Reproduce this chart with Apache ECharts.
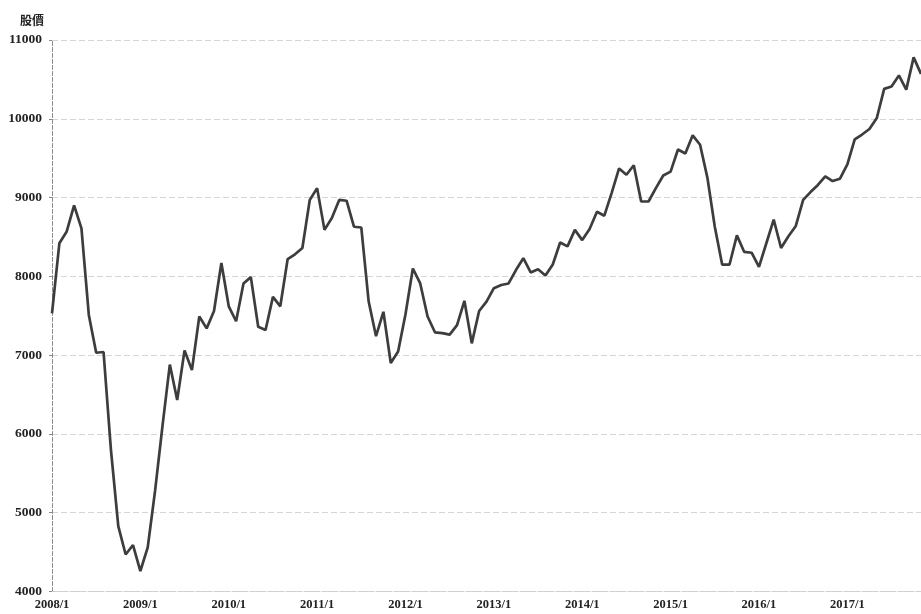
<!DOCTYPE html>
<html>
<head>
<meta charset="utf-8">
<script src="https://cdn.jsdelivr.net/npm/echarts@6/dist/echarts.min.js"></script>
<style>
html,body{margin:0;padding:0;background:#fff;}
#chart{width:921px;height:614px;}
</style>
</head>
<body>
<div id="chart"></div>
<script>
const years = [2008, 2009, 2010, 2011, 2012, 2013, 2014, 2015, 2016, 2017];
const months = [1,2,3,4,5,6,7,8,9,10,11,12];
const lastMonth2017 = 11;

const price2008 = [7530, 8420, 8570, 8900, 8610, 7510, 7030, 7040, 5800, 4830, 4470, 4590];
const price2009 = [4260, 4560, 5280, 6100, 6880, 6430, 7060, 6810, 7490, 7340, 7560, 8170];
const price2010 = [7620, 7430, 7910, 7990, 7360, 7320, 7740, 7620, 8220, 8280, 8360, 8970];
const price2011 = [9120, 8590, 8740, 8970, 8960, 8630, 8620, 7680, 7240, 7550, 6900, 7045];
const price2012 = [7520, 8100, 7910, 7490, 7290, 7280, 7260, 7380, 7690, 7150, 7560, 7680];
const price2013 = [7850, 7890, 7910, 8080, 8230, 8050, 8090, 8010, 8150, 8430, 8380, 8590];
const price2014 = [8460, 8600, 8820, 8770, 9060, 9370, 9290, 9410, 8950, 8950, 9120, 9280];
const price2015 = [9330, 9610, 9560, 9790, 9670, 9250, 8630, 8150, 8150, 8520, 8310, 8300];
const price2016 = [8120, 8420, 8720, 8360, 8510, 8640, 8970, 9070, 9160, 9270, 9210, 9240];
const price2017 = [9420, 9740, 9800, 9870, 10010, 10380, 10410, 10550, 10370, 10780, 10570];

const yAxisTitle = '股價';
const yMin = 4000, yMax = 11000, yStep = 1000;

const categories = [];
years.forEach(y => {
  months.forEach(m => {
    if (y === 2017 && m > lastMonth2017) return;
    categories.push(y + '/' + m);
  });
});
const prices = [].concat(price2008, price2009, price2010, price2011, price2012,
  price2013, price2014, price2015, price2016, price2017);

const serif = '"Liberation Serif", "DejaVu Serif", serif';
const chart = echarts.init(document.getElementById('chart'));
chart.setOption({
  animation: false,
  backgroundColor: '#ffffff',
  title: {
    text: yAxisTitle,
    left: 15, top: 9,
    textStyle: { fontFamily: '"Noto Sans CJK TC", sans-serif', fontSize: 12, fontWeight: 'bold', color: '#222' }
  },
  grid: { left: 52, right: 0, top: 40, bottom: 22.5 },
  xAxis: {
    type: 'category',
    data: categories,
    boundaryGap: false,
    axisLine: { show: true, lineStyle: { color: '#cfcfcf', width: 1, type: 'dashed' } },
    axisTick: { show: false },
    axisLabel: {
      interval: (i) => i % 12 === 0,
      formatter: (v) => v,
      fontFamily: serif, fontSize: 12.5, fontWeight: 'bold', color: '#222', margin: 7
    },
    splitLine: { show: false }
  },
  yAxis: {
    type: 'value',
    min: yMin, max: yMax, interval: yStep,
    axisLine: { show: true, lineStyle: { color: '#8a8a8a', width: 1, type: 'dashed' } },
    axisTick: { show: true, length: 3, lineStyle: { color: '#8a8a8a' } },
    axisLabel: { fontFamily: serif, fontSize: 13.5, fontWeight: 'bold', color: '#222', margin: 10,
      formatter: (v) => String(v) },
    splitLine: { show: true, lineStyle: { color: '#d6d6d6', width: 1, type: [6, 3] } }
  },
  series: [{
    type: 'line',
    data: prices,
    symbol: 'none',
    smooth: false,
    clip: false,
    lineStyle: { color: '#3d3d3d', width: 2.7 }
  }]
});
</script>
</body>
</html>
